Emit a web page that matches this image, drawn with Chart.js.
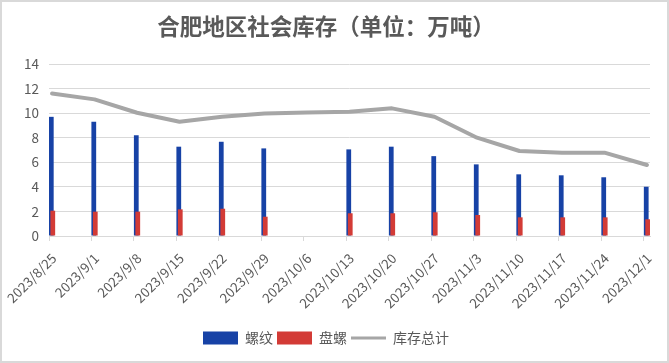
<!DOCTYPE html>
<html>
<head>
<meta charset="utf-8">
<script src="https://cdn.jsdelivr.net/npm/chart.js@4.4.0/dist/chart.umd.min.js"></script>
<style>
  html, body { margin: 0; padding: 0; background: #fff; }
  #wrap { width: 669px; height: 363px; box-sizing: border-box; border: 2px solid #d9d9d9; background: #fff; }
</style>
</head>
<body>
<div id="wrap"><canvas id="chartStok"></canvas></div>
<script>
const dates = ["2023/8/25", "2023/9/1", "2023/9/8", "2023/9/15", "2023/9/22", "2023/9/29", "2023/10/6",
  "2023/10/13", "2023/10/20", "2023/10/27", "2023/11/3", "2023/11/10", "2023/11/17", "2023/11/24", "2023/12/1"];
const luowen = [9.7, 9.3, 8.2, 7.27, 7.67, 7.13, null, 7.05, 7.27, 6.5, 5.83, 5.02, 4.94, 4.78, 4.01];
const panluo = [2.06, 1.98, 1.98, 2.17, 2.22, 1.57, null, 1.85, 1.85, 1.93, 1.71, 1.52, 1.52, 1.52, 1.36];
const total = [11.6, 11.12, 10.03, 9.3, 9.7, 9.98, 10.05, 10.12, 10.39, 9.7, 8.0, 6.92, 6.78, 6.78, 5.78];
const yTicks = [0, 2, 4, 6, 8, 10, 12, 14];

// excel date axis: one slot per day, marks sit in the middle of their day
const toDate = (s) => {
  const [y, m, d] = s.split("/").map(Number);
  return new Date(y, m - 1, d);
};
const day0 = toDate(dates[0]);
const dayOffsets = dates.map(s => Math.round((toDate(s) - day0) / 86400000));
const lastDay = dayOffsets[dayOffsets.length - 1] + 1;

const toPoints = (arr) => arr.map((v, i) => ({ x: dayOffsets[i] + 0.5, y: v }));

// 盘螺 is drawn over 螺纹 in the original, chart.js would do the opposite
const redOverBlue = {
  id: "redOverBlue",
  beforeDatasetDraw(chart, args) {
    if (args.index === 0) return false;
    if (args.index === 1) {
      const { ctx, chartArea: a } = chart;
      ctx.save();
      ctx.beginPath();
      ctx.rect(a.left, a.top, a.right - a.left, a.bottom - a.top);
      ctx.clip();
      chart.getDatasetMeta(0).controller.draw();
      ctx.restore();
    }
  }
};

Chart.defaults.font.family = "'Noto Sans CJK SC', 'Liberation Sans', sans-serif";
Chart.defaults.color = "#595959";

const ctx = document.getElementById("chartStok").getContext("2d");
new Chart(ctx, {
  type: "bar",
  data: {
    datasets: [
      {
        label: "螺纹",
        data: toPoints(luowen),
        backgroundColor: "#1742a6",
        categoryPercentage: 0.07,
        barPercentage: 3.2,
        order: 1
      },
      {
        label: "盘螺",
        data: toPoints(panluo),
        backgroundColor: "#d33b36",
        categoryPercentage: 0.07,
        barPercentage: 3.2,
        order: 1
      },
      {
        type: "line",
        label: "库存总计",
        data: toPoints(total),
        borderColor: "#a6a6a6",
        backgroundColor: "#a6a6a6",
        borderWidth: 4,
        pointRadius: 0,
        tension: 0,
        borderJoinStyle: "round",
        borderCapStyle: "round",
        order: 0
      }
    ]
  },
  options: {
    responsive: true,
    maintainAspectRatio: false,
    animation: false,
    layout: { padding: { left: 0, right: 17, top: 0, bottom: 6 } },
    plugins: {
      title: {
        display: true,
        text: "合肥地区社会库存（单位：万吨）",
        color: "#595959",
        font: { size: 22.5, weight: "bold" },
        padding: { top: 10.5, bottom: 24.5 }
      },
      legend: {
        position: "bottom",
        labels: {
          usePointStyle: true,
          pointStyleWidth: 35,
          boxHeight: 13,
          padding: 4,
          color: "#595959",
          font: { size: 14 },
          sort: (a, b) => a.datasetIndex - b.datasetIndex,
          generateLabels(chart) {
            const items = Chart.defaults.plugins.legend.labels.generateLabels(chart);
            items.forEach(it => {
              if (it.datasetIndex === 2) {
                it.pointStyle = "line";
                it.lineWidth = 3;
              } else {
                it.pointStyle = "rect";
              }
            });
            return items;
          }
        }
      },
      tooltip: { enabled: false }
    },
    scales: {
      x: {
        type: "linear",
        min: 0,
        max: lastDay,
        offset: false,
        grid: { offset: false, drawOnChartArea: false, drawTicks: true, tickLength: 5, color: "#d9d9d9" },
        border: { display: true, color: "#d9d9d9" },
        ticks: {
          stepSize: 7,
          includeBounds: false,
          autoSkip: false,
          minRotation: 45,
          maxRotation: 45,
          padding: 9,
          labelOffset: 5,
          color: "#595959",
          font: { size: 13.5 },
          callback: (v) => {
            const i = dayOffsets.indexOf(v);
            return i >= 0 ? dates[i] : "";
          }
        },
        afterFit: (s) => {
          s.height = 91;
          // the slanted labels hang left of the plot, don't let them push it
          s.paddingLeft = 0;
          s.paddingRight = 0;
        }
      },
      y: {
        min: yTicks[0],
        max: yTicks[yTicks.length - 1],
        grid: { color: "#d9d9d9", drawTicks: false },
        border: { display: false },
        ticks: {
          stepSize: 2,
          padding: 10,
          color: "#595959",
          font: { size: 13.5 }
        },
        afterFit: (s) => { s.width = 47; }
      }
    }
  },
  plugins: [redOverBlue]
});
</script>
</body>
</html>
